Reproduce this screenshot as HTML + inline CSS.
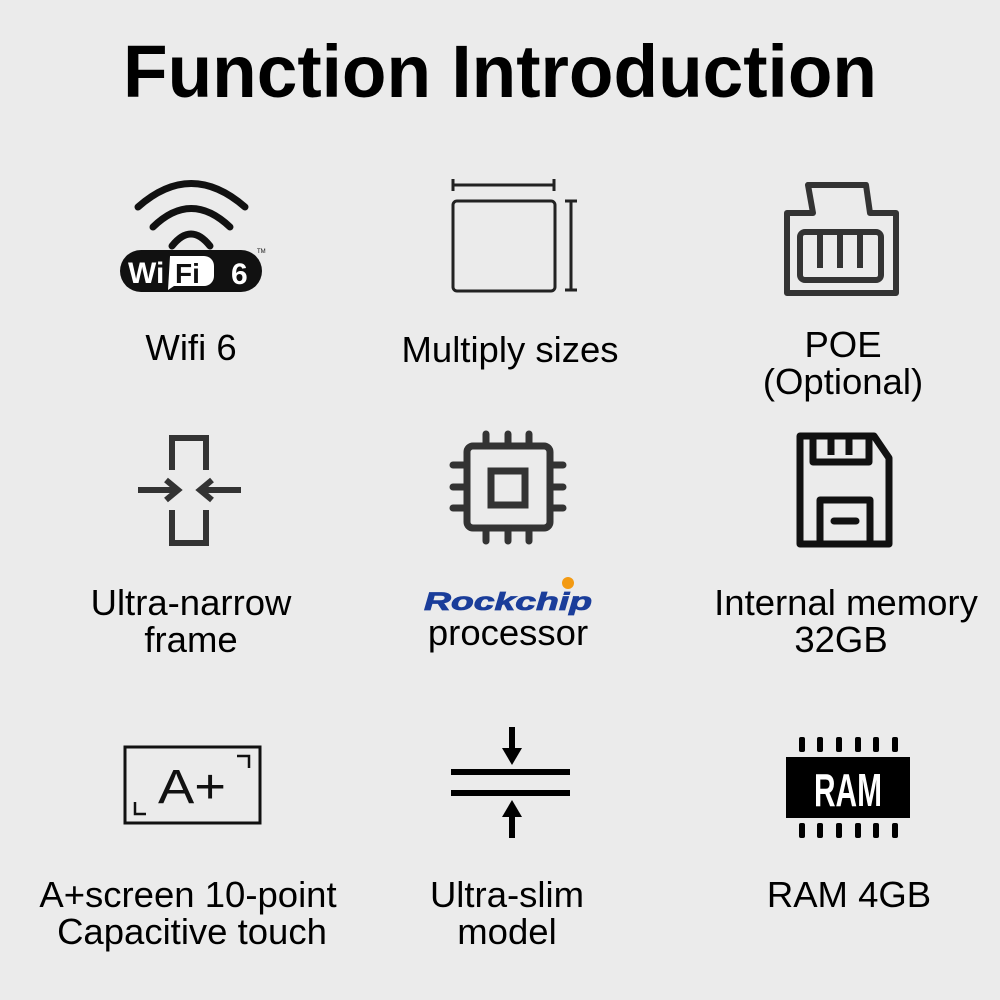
<!DOCTYPE html>
<html><head><meta charset="utf-8"><style>
html,body{margin:0;padding:0;background:#ebebeb;}
svg{display:block}
text{font-family:"Liberation Sans",sans-serif;}
</style></head><body>
<svg width="1000" height="1000" viewBox="0 0 1000 1000" xmlns="http://www.w3.org/2000/svg">
<rect width="1000" height="1000" fill="#ebebeb"/>
<text x="500" y="97" text-anchor="middle" font-size="74" font-weight="bold" fill="#000" textLength="754" lengthAdjust="spacingAndGlyphs">Function Introduction</text>

<!-- WiFi -->
<g fill="none" stroke="#111" stroke-width="7" stroke-linecap="round">
<path d="M138,207 Q191,160 245,207"/>
<path d="M153,227 Q191,190 230,227"/>
<path d="M172,246 Q191,222 210,246"/>
</g>
<rect x="120" y="250" width="142" height="42" rx="21" fill="#111"/>
<text x="128" y="283" font-size="30" font-weight="bold" fill="#fff">Wi</text>
<path d="M170,256 h34 a10,10 0 0 1 10,10 v10 a10,10 0 0 1 -10,10 h-30 l-6,4 z" fill="#fff"/>
<text x="175" y="283" font-size="28" font-weight="bold" fill="#111">Fi</text>
<text x="231" y="284" font-size="30" font-weight="bold" fill="#fff">6</text>
<text x="257" y="253" font-size="6" fill="#111">TM</text>

<!-- Multiply sizes -->
<g fill="none" stroke="#222" stroke-width="3">
<line x1="452" y1="185" x2="555" y2="185"/><line x1="453" y1="179" x2="453" y2="191"/><line x1="554" y1="179" x2="554" y2="191"/>
<rect x="453" y="201" width="102" height="90" rx="4"/>
<line x1="571" y1="200" x2="571" y2="291"/><line x1="565" y1="201" x2="577" y2="201"/><line x1="565" y1="290" x2="577" y2="290"/>
</g>

<!-- POE -->
<g fill="none" stroke="#333" stroke-width="6" stroke-linejoin="round">
<path d="M787,213 H813 L808,185 H866 L870,213 H896 V293 H787 Z"/>
<rect x="800" y="232" width="81" height="48" rx="5"/>
<line x1="820" y1="234" x2="820" y2="268"/><line x1="840" y1="234" x2="840" y2="268"/><line x1="860" y1="234" x2="860" y2="268"/>
</g>

<!-- Ultra narrow -->
<g fill="none" stroke="#333" stroke-width="6">
<path d="M172,470 V438 H206 V470"/><path d="M172,510 V543 H206 V510"/>
<line x1="138" y1="490" x2="176" y2="490"/><path d="M166,480 L178,490 L166,500"/>
<line x1="241" y1="490" x2="202" y2="490"/><path d="M212,480 L200,490 L212,500"/>
</g>

<!-- Chip -->
<g fill="none" stroke="#333" stroke-width="7" stroke-linecap="round">
<rect x="467" y="446" width="83" height="82" rx="6"/>
<rect x="491" y="471" width="34" height="34"/>
<path d="M486,434V446M508,434V446M529,434V446M486,528V541M508,528V541M529,528V541M453,465H467M453,487H467M453,508H467M550,465H563M550,487H563M550,508H563"/>
</g>

<!-- Floppy -->
<g fill="none" stroke="#111" stroke-width="7" stroke-linejoin="round">
<path d="M800,436 H874 L889,458 V544 H800 Z"/>
<path d="M813,436 V462 H869 V436"/>
<line x1="831" y1="436" x2="831" y2="455"/><line x1="849" y1="436" x2="849" y2="455"/>
<path d="M820,544 V500 H870 V544"/>
</g>
<line x1="834" y1="521" x2="856" y2="521" stroke="#111" stroke-width="7" stroke-linecap="round"/>

<!-- A+ -->
<rect x="125" y="747" width="135" height="76" fill="none" stroke="#111" stroke-width="3"/>
<path d="M237,756 H249 V768 M135,802 V814 H146" fill="none" stroke="#111" stroke-width="2.5"/>
<text x="192" y="803" text-anchor="middle" font-size="48" fill="#111" textLength="68" lengthAdjust="spacingAndGlyphs">A+</text>

<!-- Ultra slim -->
<g fill="#000">
<rect x="451" y="769" width="119" height="6"/><rect x="451" y="790" width="119" height="6"/>
<rect x="509" y="727" width="6" height="25"/><path d="M502,748 H522 L512,765 Z"/>
<rect x="509" y="812" width="6" height="26"/><path d="M502,817 H522 L512,800 Z"/>
</g>

<!-- RAM -->
<g fill="#000">
<rect x="786" y="757" width="124" height="61"/>
<rect x="799" y="737" width="6" height="15" rx="2"/><rect x="817" y="737" width="6" height="15" rx="2"/><rect x="836" y="737" width="6" height="15" rx="2"/><rect x="855" y="737" width="6" height="15" rx="2"/><rect x="873" y="737" width="6" height="15" rx="2"/><rect x="892" y="737" width="6" height="15" rx="2"/>
<rect x="799" y="823" width="6" height="15" rx="2"/><rect x="817" y="823" width="6" height="15" rx="2"/><rect x="836" y="823" width="6" height="15" rx="2"/><rect x="855" y="823" width="6" height="15" rx="2"/><rect x="873" y="823" width="6" height="15" rx="2"/><rect x="892" y="823" width="6" height="15" rx="2"/>
</g>
<text x="848" y="806" text-anchor="middle" font-size="46" font-weight="bold" fill="#fff" textLength="68" lengthAdjust="spacingAndGlyphs">RAM</text>

<!-- Rockchip logo -->
<text x="424" y="610" font-size="25" font-weight="bold" font-style="italic" fill="#1a3d9a" stroke="#1a3d9a" stroke-width="0.8" textLength="168" lengthAdjust="spacingAndGlyphs">Rockchip</text>
<circle cx="568" cy="583" r="6" fill="#f39a12"/>

<!-- Labels -->
<g font-size="36.5" fill="#000" text-anchor="middle">
<text x="191" y="360">Wifi 6</text>
<text x="510" y="362">Multiply sizes</text>
<text x="843" y="357">POE</text>
<text x="843" y="394">(Optional)</text>
<text x="191" y="615">Ultra-narrow</text>
<text x="191" y="652">frame</text>
<text x="508" y="645">processor</text>
<text x="846" y="615">Internal memory</text>
<text x="841" y="652">32GB</text>
<text x="188" y="907">A+screen 10-point</text>
<text x="192" y="944">Capacitive touch</text>
<text x="507" y="907">Ultra-slim</text>
<text x="507" y="944">model</text>
<text x="849" y="907">RAM 4GB</text>
</g>
</svg>
</body></html>
